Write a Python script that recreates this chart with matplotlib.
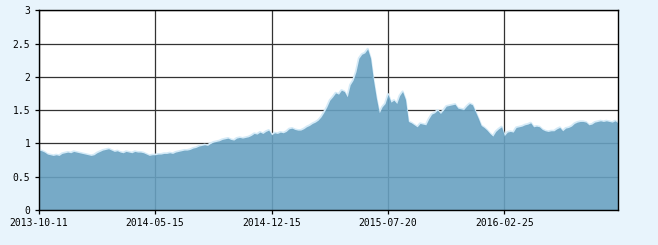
import matplotlib
matplotlib.use("Agg")
import matplotlib.pyplot as plt
import numpy as np

# net value readings, one every few trading days
nav = [
    0.90, 0.89, 0.87, 0.84, 0.83, 0.82, 0.83, 0.82, 0.85, 0.86,
    0.87, 0.86, 0.88, 0.87, 0.86, 0.85, 0.84, 0.83, 0.82, 0.83,
    0.86, 0.88, 0.90, 0.91, 0.92, 0.90, 0.88, 0.89, 0.87, 0.86,
    0.88, 0.87, 0.86, 0.88, 0.87, 0.87, 0.86, 0.84, 0.82, 0.83,
    0.83, 0.84, 0.84, 0.85, 0.85, 0.86, 0.85, 0.87, 0.88, 0.89,
    0.90, 0.90, 0.91, 0.93, 0.94, 0.96, 0.97, 0.98, 0.97, 1.00,
    1.02, 1.03, 1.04, 1.06, 1.07, 1.08, 1.06, 1.05, 1.08, 1.09,
    1.08, 1.09, 1.10, 1.12, 1.15, 1.14, 1.17, 1.15, 1.18, 1.20,
    1.13, 1.16, 1.15, 1.17, 1.16, 1.18, 1.22, 1.23, 1.21, 1.20,
    1.20, 1.22, 1.25, 1.27, 1.30, 1.32, 1.35, 1.40, 1.47, 1.55,
    1.65, 1.70, 1.76, 1.74, 1.80, 1.78, 1.70, 1.88, 1.95, 2.08,
    2.28, 2.34, 2.36, 2.42, 2.28, 1.95, 1.68, 1.46, 1.55, 1.60,
    1.74, 1.62, 1.65, 1.60, 1.72, 1.78, 1.66, 1.33, 1.31, 1.28,
    1.25, 1.30, 1.29, 1.28, 1.37, 1.44, 1.46, 1.50, 1.45, 1.50,
    1.56, 1.57, 1.58, 1.59, 1.53, 1.52, 1.51, 1.56, 1.60, 1.58,
    1.48, 1.38, 1.27, 1.24, 1.20, 1.15, 1.11, 1.18, 1.22, 1.25,
    1.12, 1.17, 1.18, 1.17, 1.24, 1.25, 1.26, 1.28, 1.29, 1.31,
    1.25, 1.26, 1.25, 1.21, 1.19, 1.18, 1.19, 1.19, 1.22, 1.24,
    1.19, 1.23, 1.24, 1.26, 1.30, 1.32, 1.33, 1.33, 1.32, 1.28,
    1.29, 1.32, 1.33, 1.34, 1.33, 1.34, 1.33, 1.32, 1.34, 1.31,
]
tick_pos = [0, 40, 80, 120, 160]
tick_dates = ["2013-10-11", "2014-05-15", "2014-12-15", "2015-07-20", "2016-02-25"]
y_ticks = [0, 0.5, 1, 1.5, 2, 2.5, 3]
y_labels = ["0", "0.5", "1", "1.5", "2", "2.5", "3"]

x = np.arange(len(nav))

fig = plt.figure(figsize=(6.58, 2.45), dpi=100)
fig.patch.set_facecolor("#e8f4fc")
ax = fig.add_axes([38.7 / 658, 35 / 245, (618 - 38.7) / 658, (210 - 10.3) / 245])
ax.set_facecolor("white")

ax.grid(True, color="#333333", linewidth=0.9, zorder=1)
ax.plot(x, nav, color="#d4eaf7", linewidth=1.6, zorder=2)
ax.fill_between(x, 0, nav, color="#68a1c1", alpha=0.9, linewidth=0, zorder=3)

ax.set_xlim(0, len(nav) - 1)
ax.set_ylim(0, 3)
ax.set_xticks(tick_pos)
ax.set_xticklabels(tick_dates)
ax.set_yticks(y_ticks)
ax.set_yticklabels(y_labels)
ax.tick_params(direction="out", length=3, width=0.9, colors="black",
               labelsize=7, pad=3)
for lab in ax.get_xticklabels() + ax.get_yticklabels():
    lab.set_family("DejaVu Sans Mono")
for s in ax.spines.values():
    s.set_linewidth(1.0)
    s.set_color("black")
    s.set_zorder(4)

fig.savefig("out.png", dpi=100, facecolor=fig.get_facecolor())
